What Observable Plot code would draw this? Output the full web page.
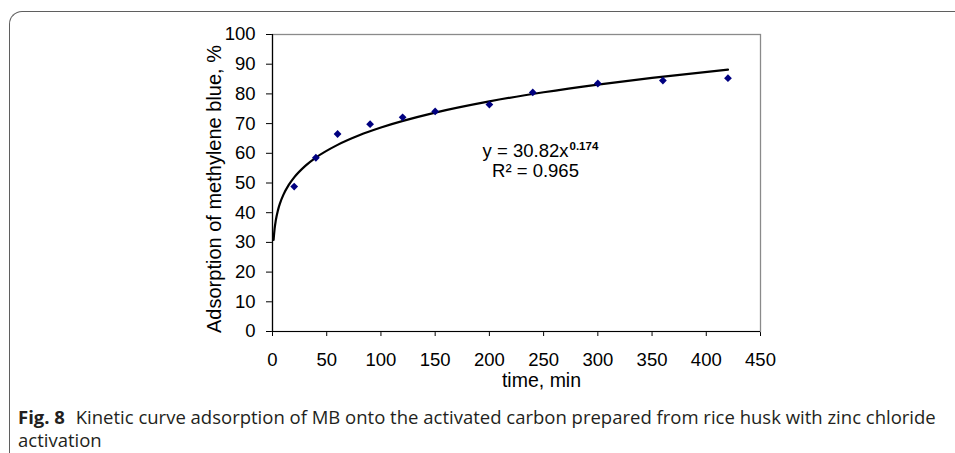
<!DOCTYPE html>
<html>
<head>
<meta charset="utf-8">
<script src="https://cdn.jsdelivr.net/npm/d3@7"></script>
<script src="https://cdn.jsdelivr.net/npm/@observablehq/plot@0.6"></script>
<style>
  html, body { margin: 0; padding: 0; background: #fff; }
  body { width: 955px; height: 453px; overflow: hidden; position: relative; }
  #frame { position: absolute; left: 8.5px; top: 10.5px; width: 1000px; height: 500px;
    border-top: 1.5px solid #5f5f5f; border-left: 1.5px solid #5f5f5f; border-top-left-radius: 13px; }
  #chart { position: absolute; left: 0; top: 0; }
  #caption { position: absolute; left: 18px; top: 405px; white-space: nowrap;
    font-family: "Open Sans", "Noto Sans", sans-serif; font-size: 18.5px; line-height: 23px; color: #231f20; }
  #caption b { font-weight: 700; margin-right: 6px; }
</style>
</head>
<body>
<div id="frame"></div>
<div id="chart"></div>
<div id="caption"><b>Fig. 8</b> Kinetic curve adsorption of MB onto the activated carbon prepared from rice husk with zinc chloride<br>activation</div>
<script>
// Measured data points (time, min vs adsorption, %)
const time = [20, 40, 60, 90, 120, 150, 200, 240, 300, 360, 420];
const adsorption = [48.8, 58.5, 66.5, 69.8, 72.1, 74.1, 76.4, 80.5, 83.5, 84.5, 85.3];

// Power trendline as drawn (y = 30.82x^0.174), read at these times
const fitTime = [1, 2, 3, 5, 7, 10, 15, 20, 30, 40, 60, 80, 100, 150, 200, 250, 300, 350, 420];
const fitValue = [30.82, 34.77, 37.31, 40.78, 43.24, 46.01, 49.37, 51.91, 55.70, 58.56, 62.84, 66.07, 68.68, 73.70, 77.48, 80.55, 83.15, 85.41, 88.16];

const xTicks = [0, 50, 100, 150, 200, 250, 300, 350, 400, 450];
const yTicks = [0, 10, 20, 30, 40, 50, 60, 70, 80, 90, 100];

const xLabel = "time, min";
const yLabel = "Adsorption of methylene blue, %";
const eqMain = "y = 30.82x";
const eqExp = "0.174";
const eqR2 = "R² = 0.965";

const points = time.map((t, i) => ({t, v: adsorption[i]}));
const fit = fitTime.map((t, i) => ({t, v: fitValue[i]}));

const chart = Plot.plot({
  width: 955,
  height: 395,
  marginLeft: 272,
  marginRight: 195,
  marginTop: 34,
  marginBottom: 64,
  style: { fontFamily: "'Liberation Sans', Arial, sans-serif", fontSize: "18.5px", color: "#000", background: "transparent", overflow: "visible" },
  x: { domain: [0, 450], ticks: xTicks, tickSize: 5, tickPadding: 16, label: null },
  y: { domain: [0, 100], ticks: yTicks, tickSize: 6, tickPadding: 11, label: null },
  marks: [
    Plot.frame({ stroke: "#8a8a8a", strokeWidth: 1.3 }),
    Plot.ruleX([0], { stroke: "#000", strokeWidth: 1.2 }),
    Plot.ruleY([0], { stroke: "#000", strokeWidth: 1.2 }),
    Plot.line(fit, { x: "t", y: "v", stroke: "#000", strokeWidth: 2.2, curve: "monotone-x" }),
    Plot.dot(points, { x: "t", y: "v", symbol: "diamond2", r: 3.5, fill: "#000080", stroke: "none" }),
    Plot.text([yLabel], { frameAnchor: "left", textAnchor: "middle", lineAnchor: "middle", rotate: -90, dx: -58, dy: 6, fontSize: 20 }),
    Plot.text([xLabel], { frameAnchor: "bottom", textAnchor: "middle", lineAnchor: "middle", dx: 25, dy: 49, fontSize: 19.5 }),
    Plot.text([eqMain], { frameAnchor: "top-left", textAnchor: "end", lineAnchor: "middle", dx: 296, dy: 117, fontSize: 18.5 }),
    Plot.text([eqExp], { frameAnchor: "top-left", textAnchor: "start", lineAnchor: "middle", dx: 297, dy: 112, fontSize: 11.5, fontWeight: "bold" }),
    Plot.text([eqR2], { frameAnchor: "top-left", textAnchor: "middle", lineAnchor: "middle", dx: 263, dy: 137, fontSize: 18.5 })
  ]
});
document.getElementById("chart").appendChild(chart);
</script>
</body>
</html>
